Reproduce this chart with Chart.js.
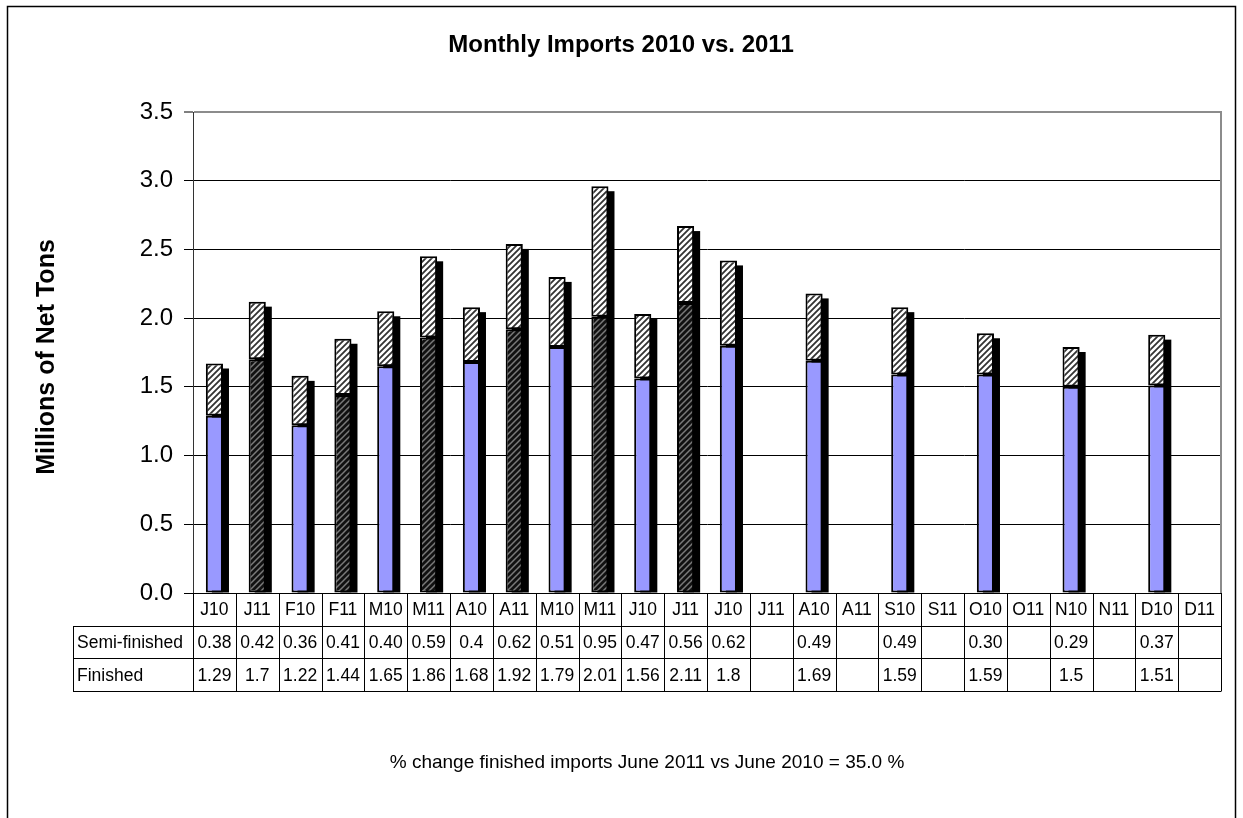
<!DOCTYPE html>
<html>
<head>
<meta charset="utf-8">
<title>Monthly Imports 2010 vs. 2011</title>
<script src="https://cdn.jsdelivr.net/npm/chart.js@4.4.1/dist/chart.umd.min.js"></script>
<style>
  html, body { margin: 0; padding: 0; background: #fff; }
  #wrap { width: 1243px; height: 818px; }
</style>
</head>
<body>
<div id="wrap"><canvas id="imports-chart" width="1243" height="818"></canvas></div>
<script>
// chart data
const categories   = ["J10","J11","F10","F11","M10","M11","A10","A11","M10","M11","J10","J11",
                      "J10","J11","A10","A11","S10","S11","O10","O11","N10","N11","D10","D11"];
const semiFinished = ["0.38","0.42","0.36","0.41","0.40","0.59","0.4","0.62","0.51","0.95","0.47","0.56",
                      "0.62",null,"0.49",null,"0.49",null,"0.30",null,"0.29",null,"0.37",null];
const finished     = ["1.29","1.7","1.22","1.44","1.65","1.86","1.68","1.92","1.79","2.01","1.56","2.11",
                      "1.8",null,"1.69",null,"1.59",null,"1.59",null,"1.5",null,"1.51",null];
const yTicks       = [0, 0.5, 1.0, 1.5, 2.0, 2.5, 3.0, 3.5];
const yTickLabels  = ["0.0","0.5","1.0","1.5","2.0","2.5","3.0","3.5"];
const rowLabels    = ["Semi-finished", "Finished"];

const chartTitle = "Monthly Imports 2010 vs. 2011";
const yTitle     = "Millions of Net Tons";
const footnote   = "% change finished imports June 2011 vs June 2010 = 35.0 %";

const FONT = "'Liberation Sans', Arial, sans-serif";

const toNum = arr => arr.map(v => v === null ? null : parseFloat(v));

// diagonal hatch fill, like Excel's "wide upward diagonal"
function hatch(bg, fg, size, width) {
    const c = document.createElement("canvas");
    c.width = c.height = size;
    const g = c.getContext("2d");
    g.fillStyle = bg;
    g.fillRect(0, 0, size, size);
    g.strokeStyle = fg;
    g.lineWidth = width;
    g.beginPath();
    g.moveTo(-1, size + 1); g.lineTo(size + 1, -1);
    g.moveTo(-1, 1);        g.lineTo(1, -1);
    g.moveTo(size - 1, size + 1); g.lineTo(size + 1, size - 1);
    g.stroke();
    return g.createPattern(c, "repeat");
}

const semiHatch = hatch("#ffffff", "#333333", 6, 1.8);
const darkHatch = hatch("#111111", "#7a7a7a", 6, 1.5);
const finishedColors = categories.map(c => c.endsWith("11") ? darkHatch : "#9999ff");

// black drop shadow behind each stacked column
const barShadow = {
    id: "barShadow",
    beforeDatasetsDraw(chart) {
        const ctx  = chart.ctx;
        const fin  = chart.getDatasetMeta(0).data;
        const semi = chart.getDatasetMeta(1).data;
        ctx.save();
        ctx.fillStyle = "#000";
        fin.forEach((bar, i) => {
            if (finished[i] === null) return;
            const top = semiFinished[i] !== null ? semi[i].y : bar.y;
            const w = bar.width;
            ctx.fillRect(bar.x - w / 2 + 6, top + 5, w, bar.base - top - 5);
        });
        ctx.restore();
    }
};

// frame, titles, data table and footnote
const decorations = {
    id: "decorations",
    afterDraw(chart) {
        const ctx  = chart.ctx;
        const area = chart.chartArea;
        const xs   = chart.scales.x;
        ctx.save();

        // outer chart frame
        ctx.strokeStyle = "#000";
        ctx.lineWidth = 1.5;
        ctx.strokeRect(7.5, 6.5, 1228, 900);

        // right side of plot area
        ctx.strokeStyle = "#8c8c8c";
        ctx.lineWidth = 2;
        ctx.beginPath();
        ctx.moveTo(area.right, area.top - 1);
        ctx.lineTo(area.right, area.bottom);
        ctx.stroke();

        // title
        ctx.fillStyle = "#000";
        ctx.textAlign = "center";
        ctx.textBaseline = "middle";
        ctx.font = "bold 24px " + FONT;
        ctx.fillText(chartTitle, 621, 45);

        // y axis title
        ctx.save();
        ctx.translate(47, 357);
        ctx.rotate(-Math.PI / 2);
        ctx.font = "bold 25px " + FONT;
        ctx.fillText(yTitle, 0, 0);
        ctx.restore();

        // data table
        const colW   = xs.getPixelForValue(1) - xs.getPixelForValue(0);
        const rowH   = 32.7;
        const tLeft  = 73;
        const rows   = [area.bottom, area.bottom + rowH, area.bottom + 2 * rowH, area.bottom + 3 * rowH];
        const crisp  = v => Math.round(v) + 0.5;

        ctx.strokeStyle = "#000";
        ctx.lineWidth = 1;
        ctx.beginPath();
        for (let r = 1; r <= 3; r++) {
            ctx.moveTo(tLeft, crisp(rows[r]));
            ctx.lineTo(area.right, crisp(rows[r]));
        }
        ctx.moveTo(crisp(tLeft), crisp(rows[1]));
        ctx.lineTo(crisp(tLeft), crisp(rows[3]));
        for (let i = 0; i <= categories.length; i++) {
            const x = crisp(xs.getPixelForValue(0) - colW / 2 + i * colW);
            ctx.moveTo(x, area.bottom);
            ctx.lineTo(x, crisp(rows[3]));
        }
        ctx.stroke();

        ctx.font = "17.5px " + FONT;
        categories.forEach((c, i) => {
            const x = xs.getPixelForValue(i);
            ctx.fillText(c, x, rows[0] + rowH / 2 + 1);
            if (semiFinished[i] !== null) ctx.fillText(semiFinished[i], x, rows[1] + rowH / 2 + 1);
            if (finished[i] !== null) ctx.fillText(finished[i], x, rows[2] + rowH / 2 + 1);
        });
        ctx.textAlign = "left";
        ctx.fillText(rowLabels[0], tLeft + 4, rows[1] + rowH / 2 + 1);
        ctx.fillText(rowLabels[1], tLeft + 4, rows[2] + rowH / 2 + 1);

        // footnote
        ctx.textAlign = "center";
        ctx.font = "19px " + FONT;
        ctx.fillText(footnote, 647, 763);

        ctx.restore();
    }
};

const barOpts = {
    borderColor:        "#000",
    borderWidth:        2,
    borderSkipped:      false,
    barPercentage:      0.4,
    categoryPercentage: 1.0,
};

new Chart(document.getElementById("imports-chart"), {
    type: "bar",
    data: {
        labels: categories,
        datasets: [
            { label: rowLabels[1], data: toNum(finished),     backgroundColor: finishedColors, ...barOpts },
            { label: rowLabels[0], data: toNum(semiFinished), backgroundColor: semiHatch,      ...barOpts },
        ]
    },
    options: {
        responsive:       false,
        animation:        false,
        devicePixelRatio: 1,
        layout: { padding: { left: 20, right: 22, top: 112, bottom: 225 } },
        plugins: {
            legend:  { display: false },
            tooltip: { enabled: false },
        },
        scales: {
            x: { stacked: true, display: false },
            y: {
                stacked: true,
                min: 0,
                max: 3.5,
                afterBuildTicks: s => { s.ticks = yTicks.map(v => ({ value: v })); },
                afterFit: s => { s.width = 173; },
                ticks: {
                    color:    "#000",
                    padding:  11,
                    font:     { family: FONT, size: 24 },
                    callback: (v, i) => yTickLabels[i],
                },
                grid: {
                    color:      c => c.tick && c.tick.value === 3.5 ? "#8c8c8c" : "#000",
                    lineWidth:  c => c.tick && c.tick.value === 3.5 ? 2 : 1,
                    tickColor:  "#000",
                    tickWidth:  1,
                    tickLength: 9,
                },
                border: { color: "#333", width: 1 },
            }
        }
    },
    plugins: [barShadow, decorations]
});
</script>
</body>
</html>
